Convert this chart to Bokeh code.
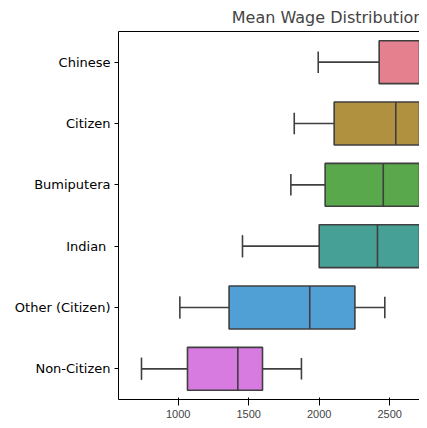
from bokeh.plotting import figure
from bokeh.models import ColumnDataSource, LinearAxis, FixedTicker
from bokeh.embed import file_html
from bokeh.resources import INLINE

# data (hidden right-hand parts are estimates)
groups = ["Chinese", "Citizen", "Bumiputera", "Indian ", "Other (Citizen)", "Non-Citizen"]
whisker_low = [1993, 1823, 1799, 1456, 1012, 740]
q1 = [2425, 2106, 2042, 2000, 1361, 1066]
median = [2950, 2543, 2454, 2413, 1933, 1423]
q3 = [3400, 3000, 2950, 2900, 2253, 1598]
whisker_high = [4100, 3700, 3650, 3600, 2465, 1874]
colors = ["#e5808e", "#b09140", "#59a84b", "#47a096", "#50a0d6", "#d87be0"]

src = ColumnDataSource(dict(g=groups, lo=whisker_low, q1=q1, med=median,
                            q3=q3, hi=whisker_high, c=colors))

p = figure(width=419, height=420, y_range=groups[::-1], x_range=(577, 2711),
           output_backend="svg", toolbar_location=None, title="Mean Wage Distribution")
p.min_border_left = 118
p.min_border_right = 0
p.min_border_top = 4
p.min_border_bottom = 20
p.outline_line_color = None
p.grid.visible = False

edge = "#3f3f3f"
p.segment(x0="lo", x1="q1", y0="g", y1="g", source=src, line_color=edge, line_width=1.6)
p.segment(x0="q3", x1="hi", y0="g", y1="g", source=src, line_color=edge, line_width=1.6)
p.hbar(y="g", left="q1", right="q3", height=0.7, source=src,
       fill_color="c", line_color=edge, line_width=1.6)
p.rect(x="med", y="g", width=0.0001, height=0.7, source=src, line_color=edge, line_width=1.6)
p.rect(x="lo", y="g", width=0.0001, height=0.35, source=src, line_color=edge, line_width=1.6)
p.rect(x="hi", y="g", width=0.0001, height=0.35, source=src, line_color=edge, line_width=1.6)

top = LinearAxis(major_label_text_font_size="0pt", major_tick_line_color=None,
                 minor_tick_line_color=None, axis_line_color="black")
p.add_layout(top, "above")

p.xaxis.ticker = FixedTicker(ticks=[1000, 1500, 2000, 2500])
top.ticker = FixedTicker(ticks=[])
for ax in (p.xaxis[0], p.yaxis[0]):
    ax.major_label_text_font = "DejaVu Sans"
    ax.major_label_text_font_size = "13px"
    ax.major_label_text_color = "black"
    ax.minor_tick_line_color = None
    ax.major_tick_in = 0
    ax.major_tick_out = 4
    ax.axis_line_color = "black"
p.xaxis.major_label_standoff = 4
p.yaxis.major_label_standoff = 4

p.title.text_font = "DejaVu Sans"
p.title.text_font_size = "16px"
p.title.text_font_style = "normal"
p.title.align = "right"
p.title.offset = -4

open("out.html", "w").write(file_html(p, INLINE))
